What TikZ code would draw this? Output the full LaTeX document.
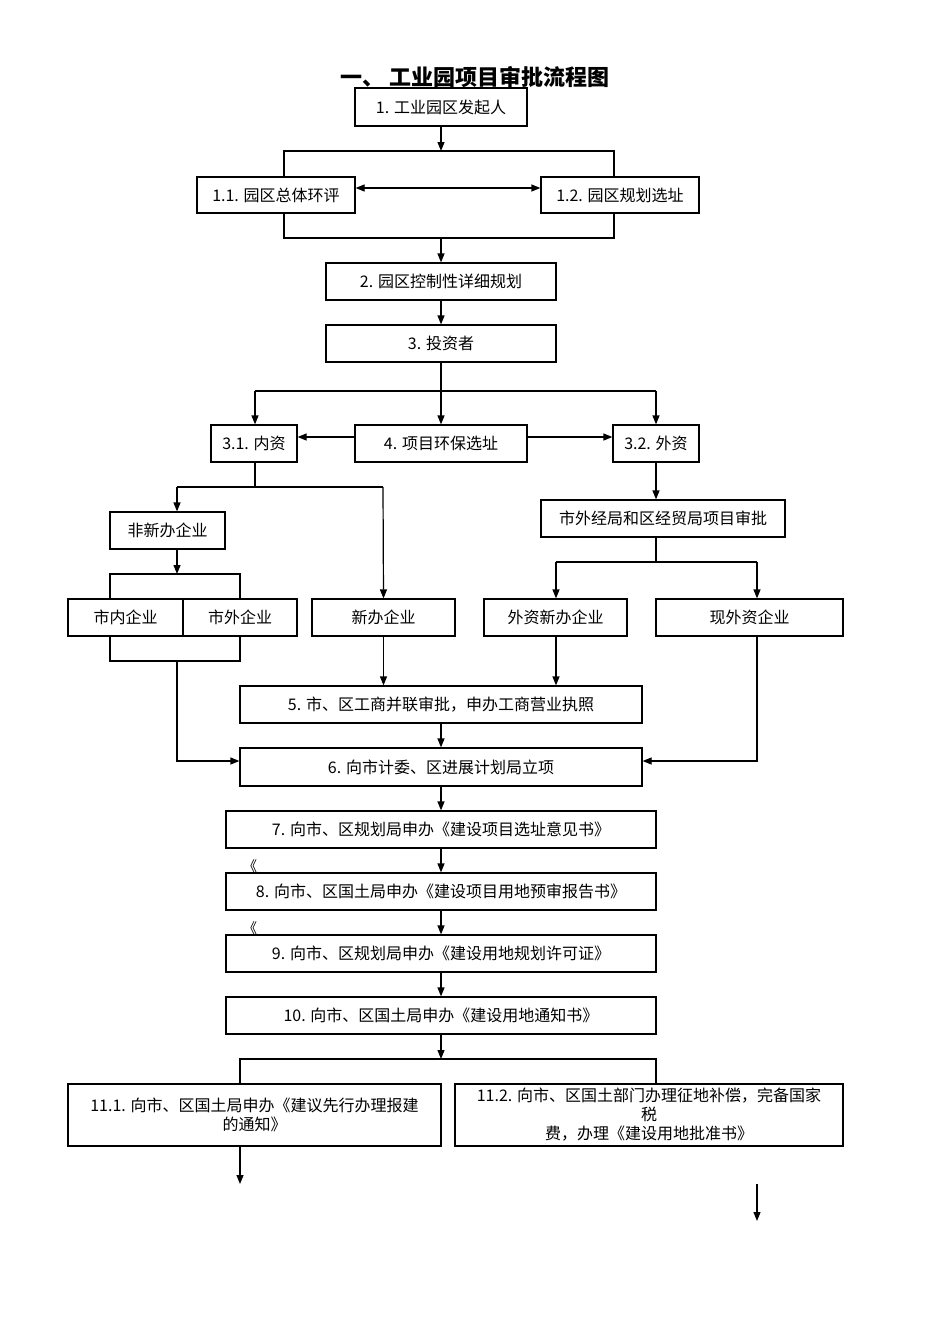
\documentclass[tikz,border=0pt]{standalone}
\usepackage{fontspec}
\setmainfont{Liberation Serif}
\newfontfamily\cjk{Noto Sans CJK SC}
\usetikzlibrary{arrows.meta}
\newcommand\mybox[6]{%
  \pgfmathsetmacro\cxx{(#2+#4)/2}\pgfmathsetmacro\cyy{(#3+#5)/2}%
  \pgfmathsetmacro\ww{(#4-#2)*0.5}\pgfmathsetmacro\hh{(#5-#3)*0.5}%
  \node[box,minimum width=\ww pt,minimum height=\hh pt] (#1) at (\cxx,\cyy) {#6};}
\begin{document}
\begin{tikzpicture}[x=0.5pt,y=-0.5pt,
  box/.style={draw,line width=0.6pt,inner sep=1pt,align=center,font=\fontsize{8}{9.5}\selectfont\cjk},
  ln/.style={line width=0.6pt},
  arr/.style={ln,-{Triangle[length=4.5pt,width=3.5pt]}}]
\useasboundingbox (0,0) rectangle (950,1344);
\node[font=\fontsize{11}{13}\selectfont\cjk\bfseries] (title) at (475,77) {一、 工业园项目审批流程图};
\mybox{b1}{355}{88}{527}{126}{1. 工业园区发起人}
\mybox{b11}{197}{177}{355}{213}{1.1. 园区总体环评}
\mybox{b12}{541}{177}{699}{213}{1.2. 园区规划选址}
\mybox{b2}{326}{263}{556}{300}{2. 园区控制性详细规划}
\mybox{b3}{326}{325}{556}{362}{3. 投资者}
\mybox{b31}{211}{425}{297}{462}{3.1. 内资}
\mybox{b4}{355}{425}{527}{462}{4. 项目环保选址}
\mybox{b32}{613}{425}{699}{462}{3.2. 外资}
\mybox{fx}{110}{512}{225}{549}{非新办企业}
\mybox{sn}{68}{599}{183}{636}{市内企业}
\mybox{sw}{183}{599}{297}{636}{市外企业}
\mybox{xb}{312}{599}{455}{636}{新办企业}
\mybox{wj}{541}{500}{785}{537}{市外经局和区经贸局项目审批}
\mybox{wx}{484}{599}{627}{636}{外资新办企业}
\mybox{xw}{656}{599}{843}{636}{现外资企业}
\mybox{b5}{240}{686}{642}{723}{5. 市、区工商并联审批，申办工商营业执照}
\mybox{b6}{240}{748}{642}{786}{6. 向市计委、区进展计划局立项}
\mybox{b7}{226}{811}{656}{848}{7. 向市、区规划局申办《建设项目选址意见书》}
\mybox{b8}{226}{873}{656}{910}{8. 向市、区国土局申办《建设项目用地预审报告书》}
\mybox{b9}{226}{935}{656}{972}{9. 向市、区规划局申办《建设用地规划许可证》}
\mybox{b10}{226}{997}{656}{1034}{10. 向市、区国土局申办《建设用地通知书》}
\mybox{b111}{68}{1084}{441}{1146}{11.1. 向市、区国土局申办《建议先行办理报建\\的通知》}
\mybox{b112}{455}{1084}{843}{1146}{11.2. 向市、区国土部门办理征地补偿，完备国家\\税\\费，办理《建设用地批准书》}
\node[font=\fontsize{7}{8}\selectfont\cjk] (q1) at (250,866) {《};
\node[font=\fontsize{7}{8}\selectfont\cjk] (q2) at (250,928) {《};
% connectors
\coordinate (j1) at (441,151);
\draw[arr] (b1.south) -- (j1);
\draw[ln] (b11.north -| 284,0) -- (284,151) -- (614,151) -- (b12.north -| 614,0);
\draw[{Triangle[length=4.5pt,width=3.5pt]}-{Triangle[length=4.5pt,width=3.5pt]},ln] (b11.east |- 0,188) -- (b12.west |- 0,188);
\draw[ln] (b11.south -| 284,0) -- (284,238) -- (614,238) -- (b12.south -| 614,0);
\coordinate (j2) at (441,238);
\draw[arr] (j2) -- (b2.north);
\draw[arr] (b2.south) -- (b3.north);
\coordinate (j3) at (441,391);
\draw[ln] (b3.south) -- (j3);
\draw[ln] (255,391) -- (656,391);
\draw[arr] (255,391) -- (b31.north -| 255,0);
\draw[arr] (j3) -- (b4.north);
\draw[arr] (656,391) -- (b32.north -| 656,0);
\draw[arr] (b4.west |- 0,437) -- (b31.east |- 0,437);
\draw[arr] (b4.east |- 0,437) -- (b32.west |- 0,437);
\coordinate (j4) at (255,487);
\draw[ln] (b31.south -| j4) -- (j4);
\draw[ln] (177,487) -- (383,487);
\draw[arr] (177,487) -- (fx.north -| 177,0);
\draw[arr] (383,487) -- (xb.north);
\draw[arr] (fx.south -| 177,0) -- (177,574);
\draw[ln] (sn.north -| 110,0) -- (110,574) -- (240,574) -- (sw.north -| 240,0);
\draw[ln] (sn.south -| 110,0) -- (110,661) -- (240,661) -- (sw.south -| 240,0);
\draw[arr] (177,661) -- (177,761) -- (b6.west |- 0,761);
\draw[arr] (xb.south) -- (b5.north -| xb.south);
\draw[arr] (b32.south -| 656,0) -- (wj.north -| 656,0);
\draw[ln] (wj.south -| 656,0) -- (656,562);
\draw[ln] (556,562) -- (757,562);
\draw[arr] (556,562) -- (wx.north -| 556,0);
\draw[arr] (757,562) -- (xw.north -| 757,0);
\draw[arr] (wx.south -| 556,0) -- (b5.north -| 556,0);
\draw[arr] (xw.south -| 757,0) -- (757,761) -- (b6.east |- 0,761);
\draw[arr] (b5.south -| 441,0) -- (b6.north -| 441,0);
\draw[arr] (b6.south -| 441,0) -- (b7.north -| 441,0);
\draw[arr] (b7.south -| 441,0) -- (b8.north -| 441,0);
\draw[arr] (b8.south -| 441,0) -- (b9.north -| 441,0);
\draw[arr] (b9.south -| 441,0) -- (b10.north -| 441,0);
\coordinate (j5) at (441,1059);
\draw[arr] (b10.south -| 441,0) -- (j5);
\draw[ln] (b111.north -| 240,0) -- (240,1059) -- (656,1059) -- (b112.north -| 656,0);
\coordinate (e1) at (240,1184);
\draw[arr] (b111.south -| 240,0) -- (e1);
\coordinate (e2a) at (757,1184);
\coordinate (e2b) at (757,1221);
\draw[arr] (e2a) -- (e2b);
\end{tikzpicture}
\end{document}
